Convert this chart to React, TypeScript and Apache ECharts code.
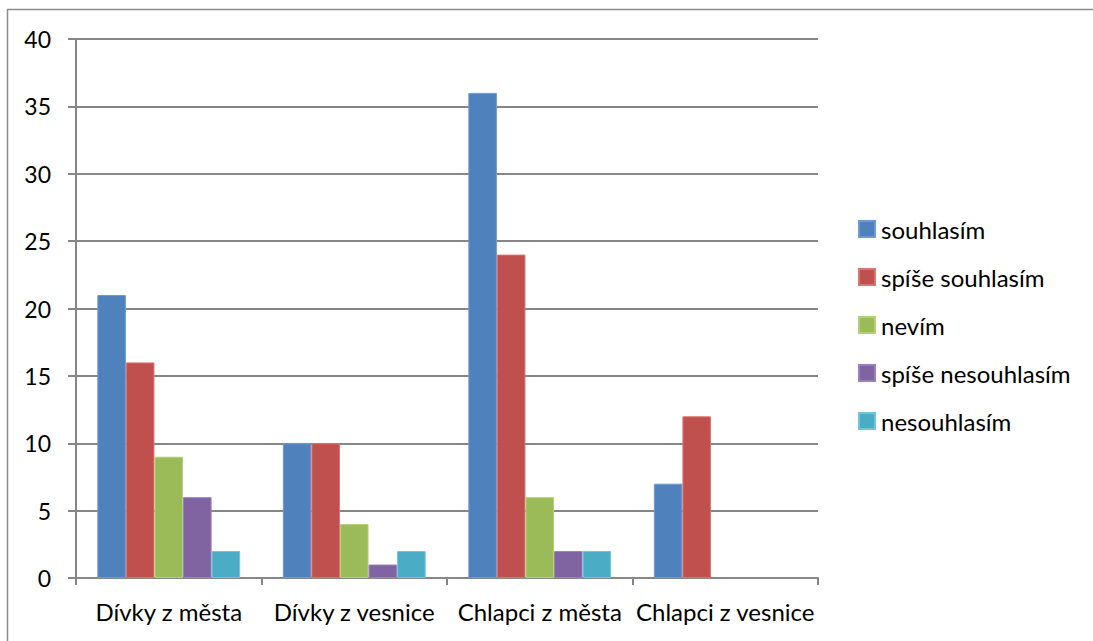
import React, { useEffect, useRef } from "react";
import * as echarts from "echarts";

const categories = ["Dívky z města", "Dívky z vesnice", "Chlapci z města", "Chlapci z vesnice"];
const seriesNames = ["souhlasím", "spíše souhlasím", "nevím", "spíše nesouhlasím", "nesouhlasím"];
const souhlasim = [21, 10, 36, 7];
const spiseSouhlasim = [16, 10, 24, 12];
const nevim = [9, 4, 6, 0];
const spiseNesouhlasim = [6, 1, 2, 0];
const nesouhlasim = [2, 2, 2, 0];
const seriesValues = [souhlasim, spiseSouhlasim, nevim, spiseNesouhlasim, nesouhlasim];
const colors = ["#4F81BD", "#C0504D", "#9BBB59", "#8064A2", "#4BACC6"];
const borders = ["#6F9AD0", "#D97572", "#B3D07A", "#9A80BC", "#72C4DA"];

export default function App() {
  const ref = useRef<HTMLDivElement>(null);
  useEffect(() => {
    document.body.style.margin = "0";
    const chart = echarts.init(ref.current!, null, { renderer: "svg" });
    const font = "Lato, 'Open Sans', sans-serif";
    chart.setOption({
      animation: false,
      backgroundColor: "#ffffff",
      textStyle: { fontFamily: font },
      grid: { left: 76, right: 275, top: 39, bottom: 63, containLabel: false },
      legend: {
        orient: "vertical",
        left: 858,
        top: 217,
        padding: 0,
        itemWidth: 16,
        itemHeight: 16,
        itemGap: 24,
        icon: "rect",
        textStyle: { fontSize: 24, color: "#000", fontFamily: font, padding: [0, 0, 0, 1] },
        data: seriesNames,
      },
      graphic: [
        {
          type: "rect",
          shape: { x: 7.5, y: 9.5, width: 1200, height: 800 },
          style: { fill: "none", stroke: "#8c8c8c", lineWidth: 1.5 },
          silent: true,
        },
      ],
      xAxis: {
        type: "category",
        data: categories,
        axisLine: { show: true, lineStyle: { color: "#868686", width: 2 } },
        axisTick: { show: true, alignWithLabel: false, length: 7, lineStyle: { color: "#868686", width: 2 } },
        axisLabel: { interval: 0, fontSize: 24, color: "#000", margin: 21, fontFamily: font },
      },
      yAxis: {
        type: "value",
        min: 0,
        max: 40,
        interval: 5,
        axisLine: { show: true, lineStyle: { color: "#868686", width: 2 } },
        axisTick: { show: true, length: 8, lineStyle: { color: "#868686", width: 2 } },
        axisLabel: { fontSize: 23, color: "#000", margin: 25, fontFamily: font },
        splitLine: { show: true, lineStyle: { color: "#868686", width: 2 } },
      },
      series: seriesNames.map((name, i) => ({
        name,
        type: "bar",
        data: seriesValues[i].map((v) => (v === 0 ? null : v)),
        barGap: "0%",
        barCategoryGap: "23%",
        itemStyle: { color: colors[i], borderColor: borders[i], borderWidth: 1 },
      })),
    });
    return () => chart.dispose();
  }, []);
  return <div ref={ref} style={{ width: 1093, height: 641 }} />;
}
